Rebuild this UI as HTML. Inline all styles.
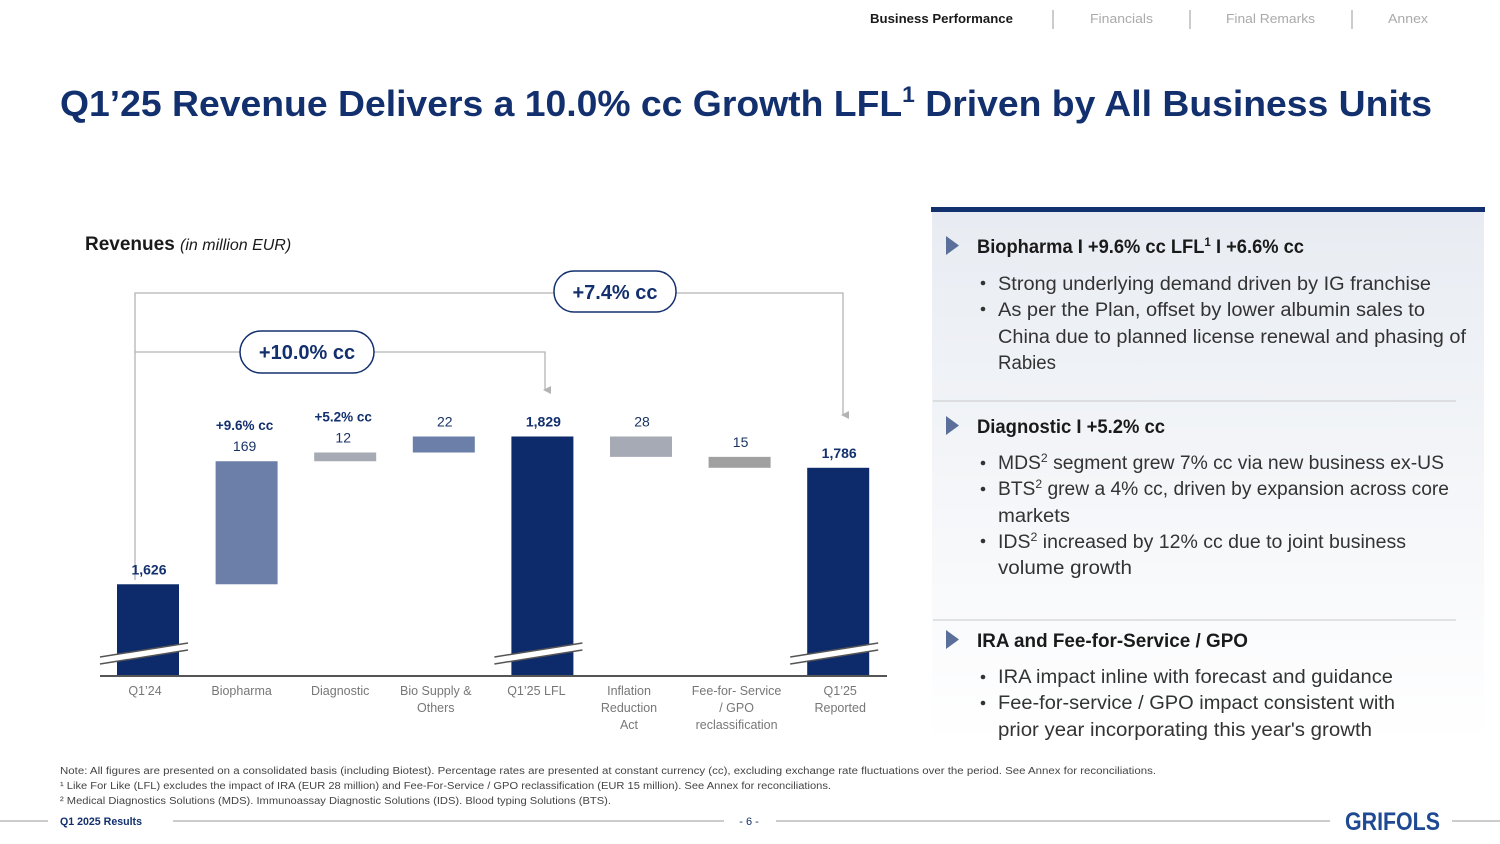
<!DOCTYPE html>
<html><head><meta charset="utf-8"><style>
html,body{margin:0;padding:0;background:#fff;}
svg{display:block;font-family:"Liberation Sans",sans-serif;}
</style></head><body>
<svg id="page" width="1500" height="844" viewBox="0 0 1500 844" xmlns="http://www.w3.org/2000/svg">
<defs>
<linearGradient id="pg" x1="0" y1="0" x2="0" y2="1"><stop offset="0" stop-color="#e8ecf2"/><stop offset="1" stop-color="#ffffff"/></linearGradient>
<marker id="arr" markerWidth="8" markerHeight="8" refX="4" refY="6" orient="auto" markerUnits="userSpaceOnUse"><path d="M0,0 L8,0 L4,8 z" fill="#b3b3b3"/></marker>
</defs>
<g font-size="13">
<text x="870" y="23" font-weight="bold" fill="#1a1a1a" textLength="143" lengthAdjust="spacingAndGlyphs">Business Performance</text>
<line x1="1053" y1="10" x2="1053" y2="29" stroke="#999"/>
<text x="1090" y="23" fill="#aaa" textLength="63" lengthAdjust="spacingAndGlyphs">Financials</text>
<line x1="1190" y1="10" x2="1190" y2="29" stroke="#999"/>
<text x="1226" y="23" fill="#aaa" textLength="89" lengthAdjust="spacingAndGlyphs">Final Remarks</text>
<line x1="1352" y1="10" x2="1352" y2="29" stroke="#999"/>
<text x="1388" y="23" fill="#aaa" textLength="40" lengthAdjust="spacingAndGlyphs">Annex</text>
</g>
<text x="60" y="116" font-size="36" font-weight="bold" fill="#13306e" textLength="1372" lengthAdjust="spacingAndGlyphs">Q1’25 Revenue Delivers a 10.0% cc Growth LFL<tspan font-size="22" dy="-14">1</tspan><tspan dy="14"> Driven by All Business Units</tspan></text>

<text x="85" y="250" font-size="19" font-weight="bold" fill="#1a1a1a">Revenues <tspan font-size="16" font-weight="normal" font-style="italic">(in million EUR)</tspan></text>

<g fill="none" stroke="#b3b3b3" stroke-width="1.3">
<polyline points="135,580 135,293 843,293 843,415" marker-end="url(#arr)"/>
<polyline points="135,352 545,352 545,390" marker-end="url(#arr)"/>
</g>
<g>
<rect x="554" y="271" width="122" height="41" rx="20" fill="#fff" stroke="#13306e" stroke-width="1.5"/>
<text x="615" y="299" font-size="20" font-weight="bold" fill="#13306e" text-anchor="middle">+7.4% cc</text>
</g>
<g>
<rect x="240" y="331" width="134" height="42" rx="21" fill="#fff" stroke="#13306e" stroke-width="1.5"/>
<text x="307" y="359" font-size="20" font-weight="bold" fill="#13306e" text-anchor="middle">+10.0% cc</text>
</g>

<g id="chart"></g>

<g>
<rect x="932" y="212" width="552" height="530" fill="url(#pg)"/>
<rect x="931" y="207" width="554" height="5" fill="#13306e"/>
<line x1="933" y1="401" x2="1456" y2="401" stroke="#c8c8c8"/>
<line x1="933" y1="620" x2="1456" y2="620" stroke="#c8c8c8"/>
<g fill="#5a6f9a">
<path d="M946,236 L959,245.5 L946,255 z"/>
<path d="M946,416 L959,425.5 L946,435 z"/>
<path d="M946,630 L959,639.5 L946,649 z"/>
</g>
<g font-size="19" font-weight="bold" fill="#1a1a1a">
<text x="977" y="253" textLength="327" lengthAdjust="spacingAndGlyphs">Biopharma I +9.6% cc LFL<tspan font-size="12" dy="-7">1</tspan><tspan dy="7"> I +6.6% cc</tspan></text>
<text x="977" y="433" textLength="188" lengthAdjust="spacingAndGlyphs">Diagnostic I +5.2% cc</text>
<text x="977" y="647" textLength="271" lengthAdjust="spacingAndGlyphs">IRA and Fee-for-Service / GPO</text>
</g>
<g font-size="19" fill="#333">
<g fill="#333"><circle cx="983" cy="283" r="2.3"/><circle cx="983" cy="309" r="2.3"/><circle cx="983" cy="463" r="2.3"/><circle cx="983" cy="489" r="2.3"/><circle cx="983" cy="541" r="2.3"/><circle cx="983" cy="677" r="2.3"/><circle cx="983" cy="703" r="2.3"/></g>
<text x="998" y="290" textLength="433" lengthAdjust="spacingAndGlyphs">Strong underlying demand driven by IG franchise</text>
<text x="998" y="316" textLength="427" lengthAdjust="spacingAndGlyphs">As per the Plan, offset by lower albumin sales to</text>
<text x="998" y="343" textLength="468" lengthAdjust="spacingAndGlyphs">China due to planned license renewal and phasing of</text>
<text x="998" y="369" textLength="58" lengthAdjust="spacingAndGlyphs">Rabies</text>
<text x="998" y="469" textLength="446" lengthAdjust="spacingAndGlyphs">MDS<tspan font-size="12" dy="-7">2</tspan><tspan dy="7"> segment grew 7% cc via new business ex-US</tspan></text>
<text x="998" y="495" textLength="451" lengthAdjust="spacingAndGlyphs">BTS<tspan font-size="12" dy="-7">2</tspan><tspan dy="7"> grew a 4% cc, driven by expansion across core</tspan></text>
<text x="998" y="522" textLength="72" lengthAdjust="spacingAndGlyphs">markets</text>
<text x="998" y="548" textLength="408" lengthAdjust="spacingAndGlyphs">IDS<tspan font-size="12" dy="-7">2</tspan><tspan dy="7"> increased by 12% cc due to joint business</tspan></text>
<text x="998" y="574" textLength="134" lengthAdjust="spacingAndGlyphs">volume growth</text>
<text x="998" y="683" textLength="395" lengthAdjust="spacingAndGlyphs">IRA impact inline with forecast and guidance</text>
<text x="998" y="709" textLength="397" lengthAdjust="spacingAndGlyphs">Fee-for-service / GPO impact consistent with</text>
<text x="998" y="736" textLength="374" lengthAdjust="spacingAndGlyphs">prior year incorporating this year's growth</text>
</g>
</g>

<g font-size="10" fill="#444">
<text x="60" y="774" textLength="1096" lengthAdjust="spacingAndGlyphs">Note: All figures are presented on a consolidated basis (including Biotest). Percentage rates are presented at constant currency (cc), excluding exchange rate fluctuations over the period. See Annex for reconciliations.</text>
<text x="60" y="789" textLength="771" lengthAdjust="spacingAndGlyphs">¹ Like For Like (LFL) excludes the impact of IRA (EUR 28 million) and Fee-For-Service / GPO reclassification (EUR 15 million). See Annex for reconciliations.</text>
<text x="60" y="804" textLength="551" lengthAdjust="spacingAndGlyphs">² Medical Diagnostics Solutions (MDS). Immunoassay Diagnostic Solutions (IDS). Blood typing Solutions (BTS).</text>
</g>
<g>
<g stroke="#999" stroke-width="1"><line x1="0" y1="821" x2="48" y2="821"/><line x1="173" y1="821" x2="724" y2="821"/><line x1="776" y1="821" x2="1330" y2="821"/><line x1="1452" y1="821" x2="1500" y2="821"/></g>
<text x="60" y="825" font-size="11" font-weight="bold" fill="#13306e" textLength="82" lengthAdjust="spacingAndGlyphs">Q1 2025 Results</text>
<text x="749" y="825" font-size="11" fill="#13306e" text-anchor="middle">- 6 -</text>
<text x="1345" y="830" font-size="25" font-weight="bold" fill="#1f4a93" textLength="95" lengthAdjust="spacingAndGlyphs">GRIFOLS</text>
</g>
</svg>
<script>
const categories=["Q1’24","Biopharma","Diagnostic","Bio Supply & Others","Q1’25 LFL","Inflation Reduction Act","Fee-for- Service / GPO reclassification","Q1’25 Reported"];
const values=[1626,169,12,22,1829,-28,-15,1786];
const kinds=["total","up","up","up","total","down","down","total"];
const valueLabels=["1,626","169","12","22","1,829","28","15","1,786"];
const growthLabels=["","+9.6% cc","+5.2% cc","","","","",""];
const catLines=[["Q1’24"],["Biopharma"],["Diagnostic"],["Bio Supply &","Others"],["Q1’25 LFL"],["Inflation","Reduction","Act"],["Fee-for- Service","/ GPO","reclassification"],["Q1’25","Reported"]];
const NS="http://www.w3.org/2000/svg";
const g=document.getElementById("chart");
const yBase=676, yMin=1500, pxPer=0.728;
const labelDx=[-3,-5,-5,-8,-6,-12,-3,2];
function y(v){return yBase-(v-yMin)*pxPer;}
function xc(i){return 148+i*98.6;}
const colors={total:"#0d2a6b",up:"#6b7fa8",down:"#a6aab4"};
function mk(tag,attrs){const e=document.createElementNS(NS,tag);for(const k in attrs)e.setAttribute(k,attrs[k]);g.appendChild(e);return e;}
let run=0;
for(let i=0;i<values.length;i++){
  let top,bot;
  if(kinds[i]==="total"){top=y(values[i]);bot=yBase;run=values[i];}
  else {const a=run,b=run+values[i];top=y(Math.max(a,b));bot=y(Math.min(a,b));run=b;}
  let col=colors[kinds[i]];
  if(i===2)col="#a6aab4";
  if(i===6)col="#a0a0a0";
  const r=mk("rect",{x:xc(i)-31,y:top,width:62,height:bot-top,fill:col});
  
  
  const bold=kinds[i]==="total";
  const t=mk("text",{x:xc(i)+(growthLabels[i]?-2:1),y:top-10,"font-size":14,"font-weight":bold?"bold":"normal",fill:bold?"#13306e":"#1a3366","text-anchor":"middle"});
  t.textContent=valueLabels[i];
  
  
  if(growthLabels[i]){
    const gt=mk("text",{x:xc(i)-2,y:top-31,"font-size":13.5,"font-weight":"bold",fill:"#13306e","text-anchor":"middle"});
    gt.textContent=growthLabels[i];
    
    
  }
  if(bold){
    const cx=xc(i);
    mk("polygon",{points:(cx-48)+",657 "+(cx+40)+",643 "+(cx+40)+",650 "+(cx-48)+",664",fill:"#fff"});
    mk("line",{x1:cx-48,y1:657,x2:cx+40,y2:643,stroke:"#555","stroke-width":1.5});
    mk("line",{x1:cx-48,y1:664,x2:cx+40,y2:650,stroke:"#555","stroke-width":1.5});
  }
  catLines[i].forEach((ln,k)=>{
    const c=mk("text",{x:xc(i)+labelDx[i],y:695+k*17,"font-size":12.5,fill:"#777","text-anchor":"middle"});
    c.textContent=ln;
    
    
  });
}
const ax=mk("line",{x1:100,y1:676,x2:887,y2:676,stroke:"#555","stroke-width":2});


</script>
</body></html>
